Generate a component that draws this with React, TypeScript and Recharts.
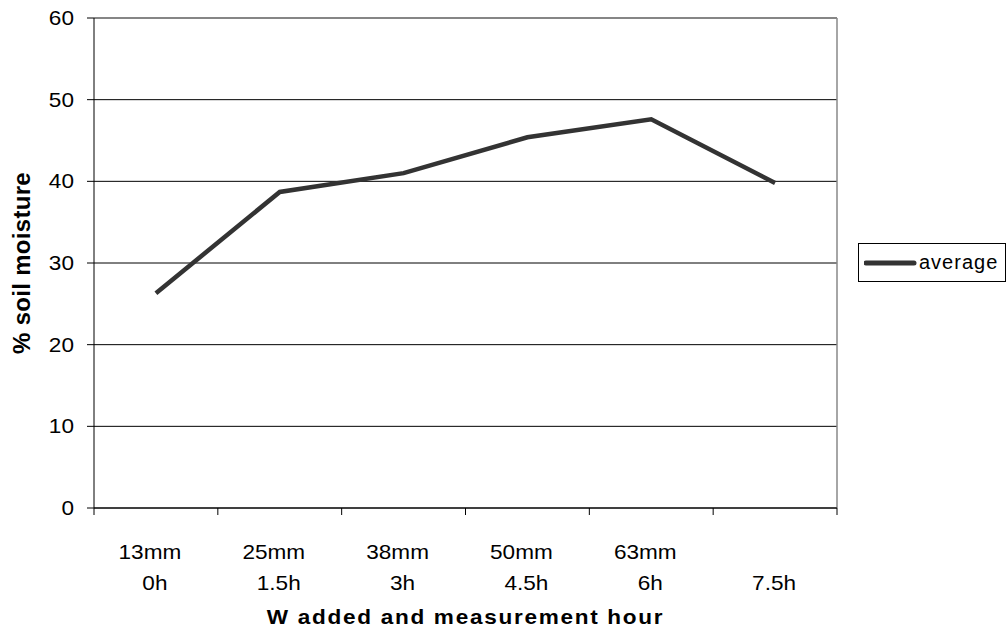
import React from "react";
import {
  LineChart,
  Line,
  XAxis,
  YAxis,
  CartesianGrid,
  Legend,
  ReferenceLine,
} from "recharts";

const mmLabels = ["13mm", "25mm", "38mm", "50mm", "63mm", ""];
const hourLabels = ["0h", "1.5h", "3h", "4.5h", "6h", "7.5h"];
const averageValues = [26.3, 38.7, 41.0, 45.4, 47.6, 39.8];
const yTicks = [0, 10, 20, 30, 40, 50, 60];
const bandEdges = [0, 1, 2, 3, 4, 5, 6];

const FONT = "'Liberation Sans', Arial, sans-serif";
const LINE_COLOR = "#333333";
const STRETCH = 1.13;

const data = averageValues.map((v, i) => ({
  x: i + 0.5,
  average: v,
}));

const labelTicks = data.map((d) => d.x);

// text is a bit wider than the font in the original picture
function Wide({ x, y, anchor = "middle", size = 20, bold = false, spacing = 0, children }: any) {
  return (
    <text
      transform={`translate(${x}, ${y}) scale(${STRETCH}, 1)`}
      textAnchor={anchor}
      fontSize={size}
      fontWeight={bold ? "bold" : "normal"}
      letterSpacing={spacing}
      fontFamily={FONT}
      fill="#000"
    >
      {children}
    </text>
  );
}

function CategoryTick(props: any) {
  const { x, y, payload } = props;
  const i = Math.floor(payload.value);
  return (
    <g>
      <Wide x={x - 6} y={y + 42}>{mmLabels[i]}</Wide>
      <Wide x={x - 1} y={y + 73}>{hourLabels[i]}</Wide>
    </g>
  );
}

function ValueTick(props: any) {
  const { x, y, payload } = props;
  return (
    <Wide x={x} y={y + 7} anchor="end">
      {payload.value}
    </Wide>
  );
}

function LegendBox() {
  return (
    <div
      style={{
        border: "1px solid #000",
        width: 148,
        height: 39,
        boxSizing: "border-box",
        display: "flex",
        alignItems: "center",
        background: "#fff",
        fontFamily: FONT,
        fontSize: 20,
        letterSpacing: 1,
      }}
    >
      <svg width={58} height={10} style={{ marginLeft: 5 }}>
        <line x1={2} y1={5} x2={50} y2={5} stroke={LINE_COLOR} strokeWidth={5} strokeLinecap="round" />
      </svg>
      <span style={{ marginLeft: -3 }}>average</span>
    </div>
  );
}

export default function App() {
  return (
    <div style={{ position: "absolute", left: 0, top: 0, background: "#fff" }}>
      <LineChart
        width={1008}
        height={634}
        data={data}
        margin={{ top: 18, right: 171, left: 0, bottom: 0 }}
      >
        <CartesianGrid horizontal vertical={false} stroke="#000" strokeWidth={1} />
        <ReferenceLine y={60} stroke="#888" strokeWidth={1.5} />
        <ReferenceLine x={6} stroke="#888" strokeWidth={1.5} />
        <YAxis
          type="number"
          domain={[0, 60]}
          ticks={yTicks}
          width={94}
          tickSize={7}
          tickMargin={13}
          stroke="#000"
          tick={<ValueTick />}
          label={(p: any) => {
            const vb = p.viewBox;
            const cx = vb.x + 30;
            const cy = vb.y + vb.height / 2;
            return (
              <text
                transform={`translate(${cx}, ${cy}) rotate(-90)`}
                textAnchor="middle"
                fontSize={24}
                fontWeight="bold"
                letterSpacing={0.3}
                fontFamily={FONT}
                fill="#000"
              >
                % soil moisture
              </text>
            );
          }}
        />
        <XAxis
          xAxisId={0}
          dataKey="x"
          type="number"
          domain={[0, 6]}
          ticks={bandEdges}
          height={1}
          tickSize={7}
          stroke="#000"
          tick={{ fontSize: 0 }}
          tickFormatter={() => ""}
        />
        <XAxis
          xAxisId="labels"
          dataKey="x"
          type="number"
          domain={[0, 6]}
          ticks={labelTicks}
          height={125}
          axisLine={false}
          tickLine={false}
          tick={<CategoryTick />}
          label={(p: any) => {
            const vb = p.viewBox;
            return (
              <Wide x={vb.x + vb.width / 2} y={vb.y + 115} size={20} bold spacing={1.5}>
                W added and measurement hour
              </Wide>
            );
          }}
        />
        <Legend
          verticalAlign="middle"
          content={<LegendBox />}
          wrapperStyle={{ position: "absolute", left: 858, top: 243, width: 148 }}
        />
        <Line
          xAxisId={0}
          type="linear"
          dataKey="average"
          name="average"
          stroke={LINE_COLOR}
          strokeWidth={4.5}
          dot={false}
          isAnimationActive={false}
        />
      </LineChart>
    </div>
  );
}
